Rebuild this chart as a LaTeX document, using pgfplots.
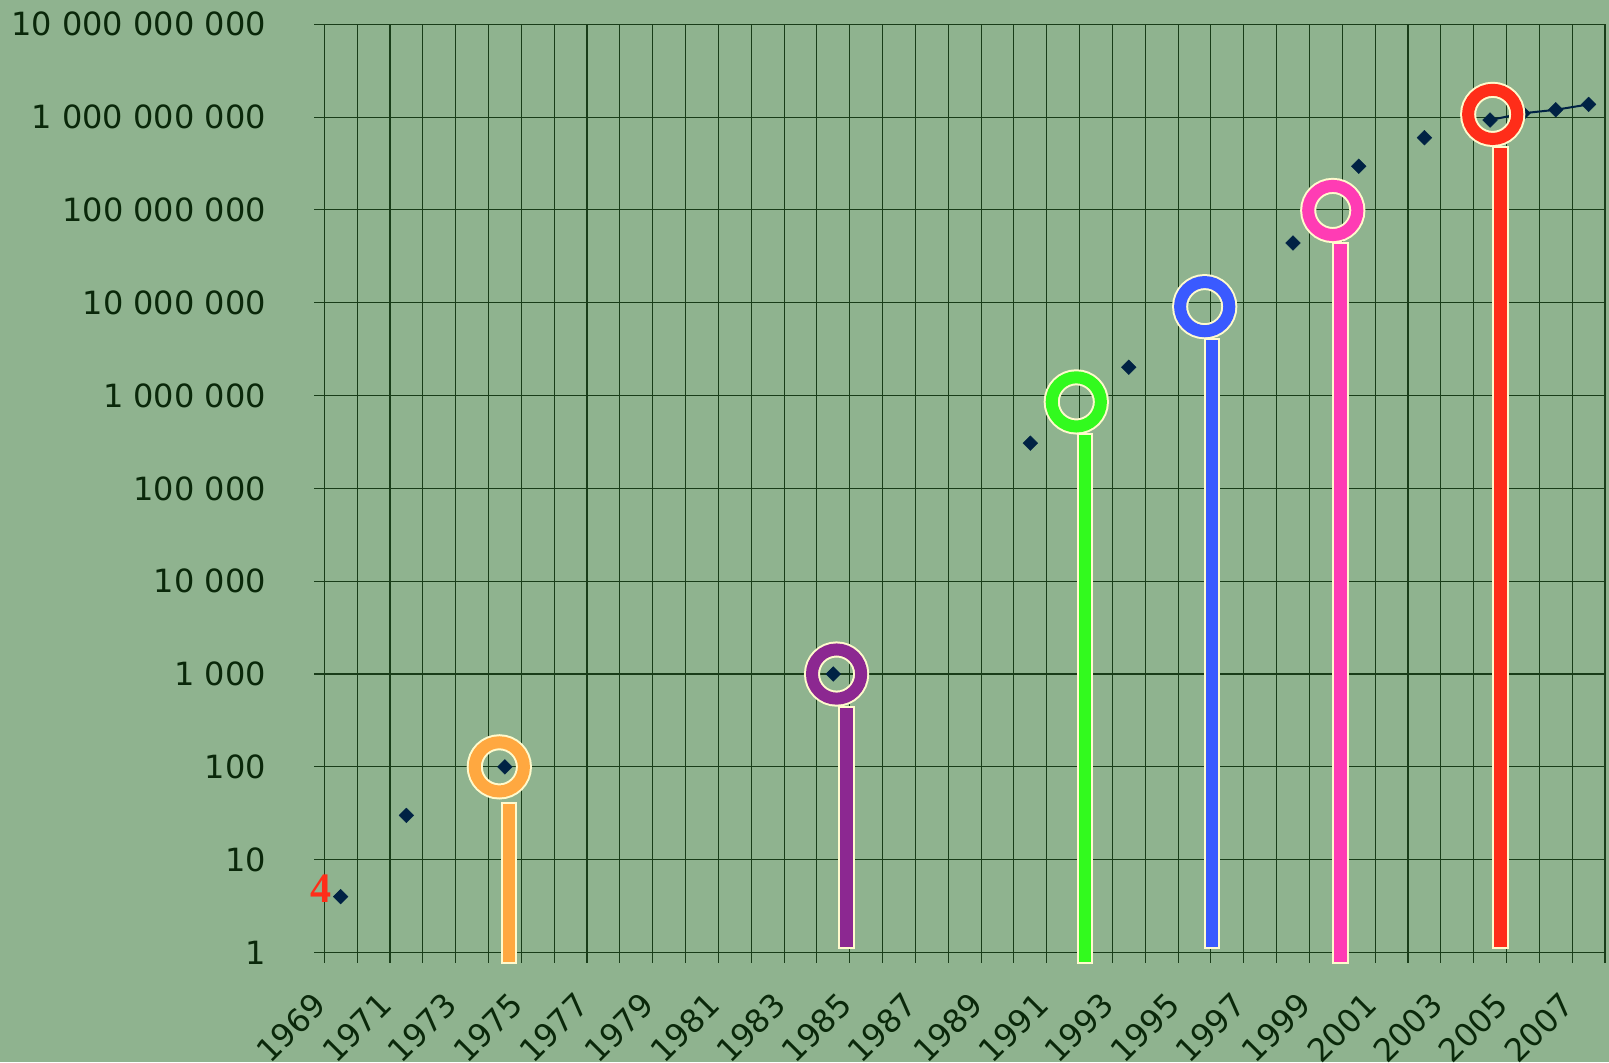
\documentclass[border=0pt]{standalone}
\usepackage{fontspec}
\setmainfont{DejaVu Sans}
\newfontface\serifbold{Liberation Serif Bold}
\usepackage{pgfplots}
\pgfplotsset{compat=1.18}
\definecolor{bgc}{RGB}{143,179,143}
\definecolor{gridc}{RGB}{25,60,25}
\definecolor{textc}{RGB}{10,40,10}
\definecolor{navy}{RGB}{0,34,68}
\definecolor{creamc}{RGB}{255,250,205}
\definecolor{orangeC}{RGB}{255,168,64}
\definecolor{purpleC}{RGB}{140,40,145}
\definecolor{greenC}{RGB}{50,250,30}
\definecolor{blueC}{RGB}{58,90,255}
\definecolor{pinkC}{RGB}{255,60,180}
\definecolor{redC}{RGB}{255,45,25}
\begin{document}
\begin{tikzpicture}
\fill[bgc] (-162.15pt,-54.75pt) rectangle (642.35pt,476.25pt);
\begin{axis}[
  at={(0,0)}, anchor=south west,
  scale only axis, width=640.35pt, height=464.1pt,
  ymode=log, xmin=1969, xmax=2008, ymin=1, ymax=1e10,
  clip=false,
  axis line style={gridc, line width=0.55pt},
  xtick={1969,1971,...,2007},
  xticklabels={1969,1971,1973,1975,1977,1979,1981,1983,1985,1987,1989,1991,1993,1995,1997,1999,2001,2003,2005,2007},
  minor xtick={1970,1972,...,2008},
  ytick={1,10,100,1000,10000,100000,1000000,10000000,100000000,1000000000,10000000000},
  yticklabels={1,10,100,1 000,10 000,100 000,1 000 000,10 000 000,100 000 000,1 000 000 000,10 000 000 000},
  yminorticks=false,
  xmajorgrids=true, xminorgrids=true, ymajorgrids=true, yminorgrids=false,
  major grid style={gridc, line width=0.55pt},
  minor grid style={gridc, line width=0.55pt},
  tick align=outside,
  major tick length=5pt, minor tick length=5pt,
  every tick/.style={gridc, line width=0.55pt},
  xtick pos=bottom, ytick pos=left,
  ticklabel style={font=\fontsize{16}{19}\selectfont, text=textc},
  yticklabel style={anchor=east, inner sep=0pt},
  xticklabel style={rotate=45, anchor=east, inner sep=0pt, xshift=-3pt},
  yticklabel shift=24pt,
  xticklabel shift=16pt,
]
% trend line of latest points
\addplot[navy, line width=1pt, mark=none] coordinates {(2004.5,9.3e8) (2005.5,1.1e9) (2006.5,1.2e9) (2007.5,1.37e9)};
% data points
\addplot[only marks, mark=square*, mark size=2.6pt, mark options={rotate=45, fill=navy, draw=navy, line width=0.2pt}] coordinates {
(1969.5,4) (1971.5,30) (1974.5,100) (1984.5,1000) (1990.5,3.07e5) (1993.5,2.02e6)
(1998.5,4.4e7) (2000.5,2.96e8) (2002.5,6.0e8) (2004.5,9.3e8) (2005.5,1.1e9) (2006.5,1.2e9) (2007.5,1.37e9)};
% stems
\addplot[fill=orangeC, draw=creamc, line width=1pt] coordinates {(1974.41,0.77) (1974.85,0.77) (1974.85,41) (1974.41,41)} -- cycle;
\addplot[fill=purpleC, draw=creamc, line width=1pt] coordinates {(1984.68,1.13) (1985.12,1.13) (1985.12,440) (1984.68,440)} -- cycle;
\addplot[fill=greenC, draw=creamc, line width=1pt] coordinates {(1991.94,0.77) (1992.38,0.77) (1992.38,3.86e5) (1991.94,3.86e5)} -- cycle;
\addplot[fill=blueC, draw=creamc, line width=1pt] coordinates {(1995.82,1.13) (1996.26,1.13) (1996.26,4.05e6) (1995.82,4.05e6)} -- cycle;
\addplot[fill=pinkC, draw=creamc, line width=1pt] coordinates {(1999.73,0.77) (2000.17,0.77) (2000.17,4.44e7) (1999.73,4.44e7)} -- cycle;
\addplot[fill=redC, draw=creamc, line width=1pt] coordinates {(2004.60,1.13) (2005.04,1.13) (2005.04,4.73e8) (2004.60,4.73e8)} -- cycle;
% rings
\addplot[only marks, mark=o, mark size=12.3pt, mark options={draw=creamc, line width=8pt}] coordinates {
(1974.33,100) (1984.6,1000) (1991.9,8.55e5) (1995.81,9.08e6) (1999.71,9.87e7) (2004.58,1.07e9)};
\addplot[only marks, mark=o, mark size=12.3pt, mark options={draw=orangeC, line width=6pt}] coordinates {(1974.33,100)};
\addplot[only marks, mark=o, mark size=12.3pt, mark options={draw=purpleC, line width=6pt}] coordinates {(1984.6,1000)};
\addplot[only marks, mark=o, mark size=12.3pt, mark options={draw=greenC, line width=6pt}] coordinates {(1991.9,8.55e5)};
\addplot[only marks, mark=o, mark size=12.3pt, mark options={draw=blueC, line width=6pt}] coordinates {(1995.81,9.08e6)};
\addplot[only marks, mark=o, mark size=12.3pt, mark options={draw=pinkC, line width=6pt}] coordinates {(1999.71,9.87e7)};
\addplot[only marks, mark=o, mark size=12.3pt, mark options={draw=redC, line width=6pt}] coordinates {(2004.58,1.07e9)};
\node[text=redC, font=\serifbold\fontsize{21}{21}\selectfont, anchor=east, inner sep=0pt, xshift=-4.5pt, yshift=4pt] at (axis cs:1969.5,4) {4};
\end{axis}
\pgfresetboundingbox
\path[use as bounding box] (-162.15pt,-54.75pt) rectangle (642.35pt,476.25pt);
\end{tikzpicture}
\end{document}
